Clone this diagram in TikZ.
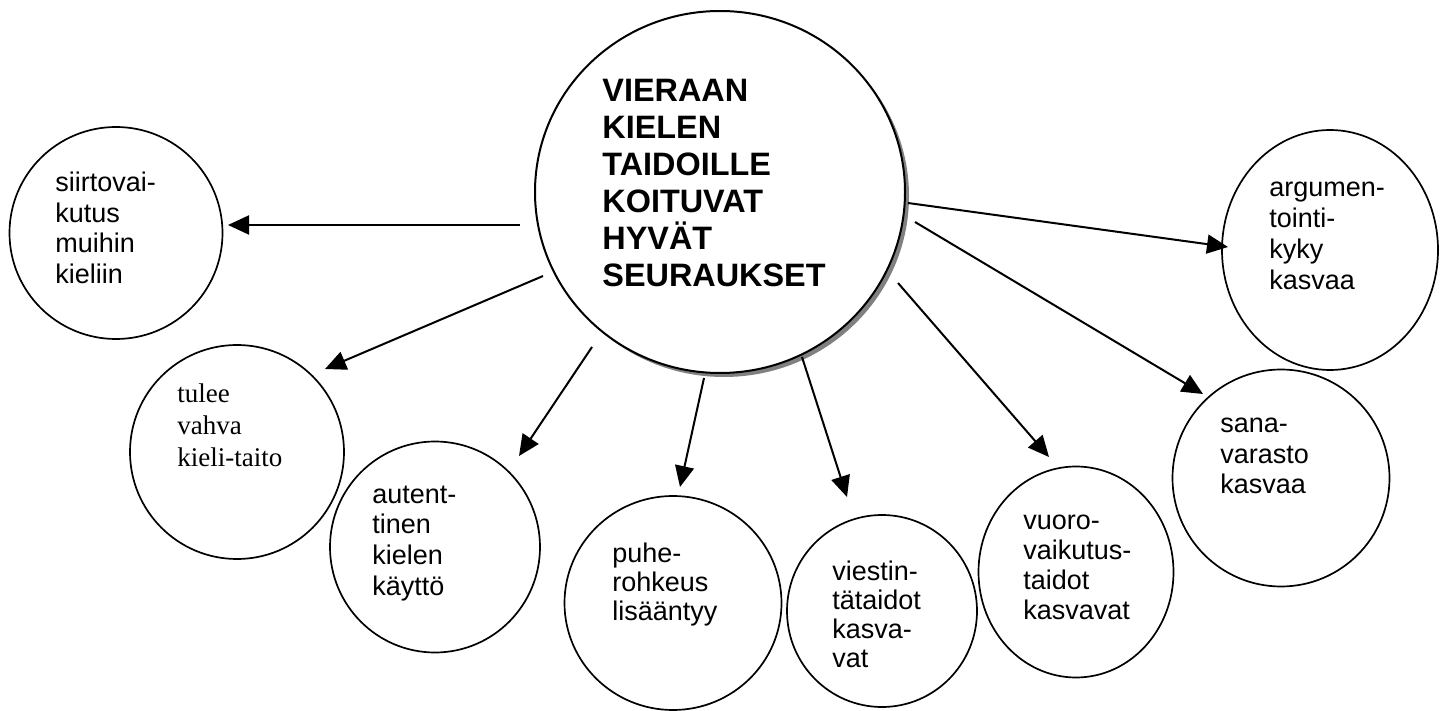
\documentclass[tikz,border=0pt]{standalone}
\usepackage{fontspec}
\setmainfont{Liberation Sans}
\newfontfamily\serifface{Liberation Serif}
\usetikzlibrary{shapes.geometric,arrows.meta}

% a block of left-aligned lines whose baseline is that of the first line
\newcommand\linestack[2]{\vtop{\baselineskip=#1\lineskiplimit=-30pt\lineskip=0pt #2}}
\newcommand\rowtxt[1]{\hbox{#1}}

\begin{document}
\begin{tikzpicture}[x=0.5pt,y=-0.5pt,
  bubble/.style={ellipse,draw,line width=0.85pt,inner sep=0pt,fill=white},
  hub/.style={ellipse,draw,line width=1pt,inner sep=0pt,fill=white,
              minimum width=185pt,minimum height=181pt},
  label/.style={anchor=base west,inner sep=0pt,
                font=\fontsize{13.5pt}{15pt}\selectfont},
  arr/.style={line width=1pt,-{Triangle[length=10.5pt,width=9.5pt]}}]

\useasboundingbox (0,0) rectangle (1447,711);

% shaded rim below right of the central bubble
\fill[black!50] (724,196) ellipse [x radius=92.5pt,y radius=90.5pt];

% bubbles
\node[hub] (c) at (720,192) {};
\node[bubble,minimum width=106.5pt,minimum height=106pt] (n1) at (116,233) {};
\node[bubble,minimum width=107pt,minimum height=107pt] (n2) at (237,452) {};
\node[bubble,minimum width=105pt,minimum height=105.5pt] (n3) at (435,547) {};
\node[bubble,minimum width=108.5pt,minimum height=107pt] (n4) at (673,603) {};
\node[bubble,minimum width=95pt,minimum height=96pt] (n5) at (882,611) {};
\node[bubble,minimum width=97.5pt,minimum height=105.5pt] (n6) at (1076,572) {};
\node[bubble,minimum width=108.5pt,minimum height=108.5pt] (n7) at (1281,478) {};
\node[bubble,minimum width=108pt,minimum height=120pt] (n8) at (1330,250) {};

% texts
\node[label,font=\bfseries\fontsize{16.2pt}{18.5pt}\selectfont] (t0) at (602,102)
  {\linestack{18.5pt}{\rowtxt{VIERAAN}\rowtxt{KIELEN}\rowtxt{TAIDOILLE}\rowtxt{KOITUVAT}\rowtxt{HYVÄT}\rowtxt{SEURAUKSET}}};
\node[label] (t1) at (55,192)
  {\linestack{15.2pt}{\rowtxt{siirtovai-}\rowtxt{kutus}\rowtxt{muihin}\rowtxt{kieliin}}};
\node[label,font=\serifface\fontsize{13.5pt}{16pt}\selectfont] (t2) at (177,403)
  {\linestack{16pt}{\rowtxt{tulee}\rowtxt{vahva}\rowtxt{kieli-taito}}};
\node[label] (t3) at (372,503)
  {\linestack{15.4pt}{\rowtxt{autent-}\rowtxt{tinen}\rowtxt{kielen}\rowtxt{käyttö}}};
\node[label] (t4) at (612,562)
  {\linestack{14.7pt}{\rowtxt{puhe-}\rowtxt{rohkeus}\rowtxt{lisääntyy}}};
\node[label] (t5) at (832,580)
  {\linestack{14.6pt}{\rowtxt{viestin-}\rowtxt{tätaidot}\rowtxt{kasva-}\rowtxt{vat}}};
\node[label] (t6) at (1023,530)
  {\linestack{15pt}{\rowtxt{vuoro-}\rowtxt{vaikutus-}\rowtxt{taidot}\rowtxt{kasvavat}}};
\node[label] (t7) at (1220,433)
  {\linestack{15.2pt}{\rowtxt{sana-}\rowtxt{varasto}\rowtxt{kasvaa}}};
\node[label] (t8) at (1269,197)
  {\linestack{15.5pt}{\rowtxt{argumen-}\rowtxt{tointi-}\rowtxt{kyky}\rowtxt{kasvaa}}};

% arrow ends (the arrows stop just short of the bubbles)
\coordinate (s1) at (520,225);  \coordinate (e1) at (228,225);
\coordinate (s2) at (543,276);  \coordinate (e2) at (325,369);
\coordinate (s3) at (592,347);  \coordinate (e3) at (519,456);
\coordinate (s4) at (704,378);  \coordinate (e4) at (680,487);
\coordinate (s5) at (802,357);  \coordinate (e5) at (847,497);
\coordinate (s6) at (898,283);  \coordinate (e6) at (1049,457);
\coordinate (s7) at (915,222);  \coordinate (e7) at (1203,394);
\coordinate (s8) at (908,203);  \coordinate (e8) at (1228,247);

\foreach \i in {1,...,8} \draw[arr] (s\i) -- (e\i);
\end{tikzpicture}
\end{document}
